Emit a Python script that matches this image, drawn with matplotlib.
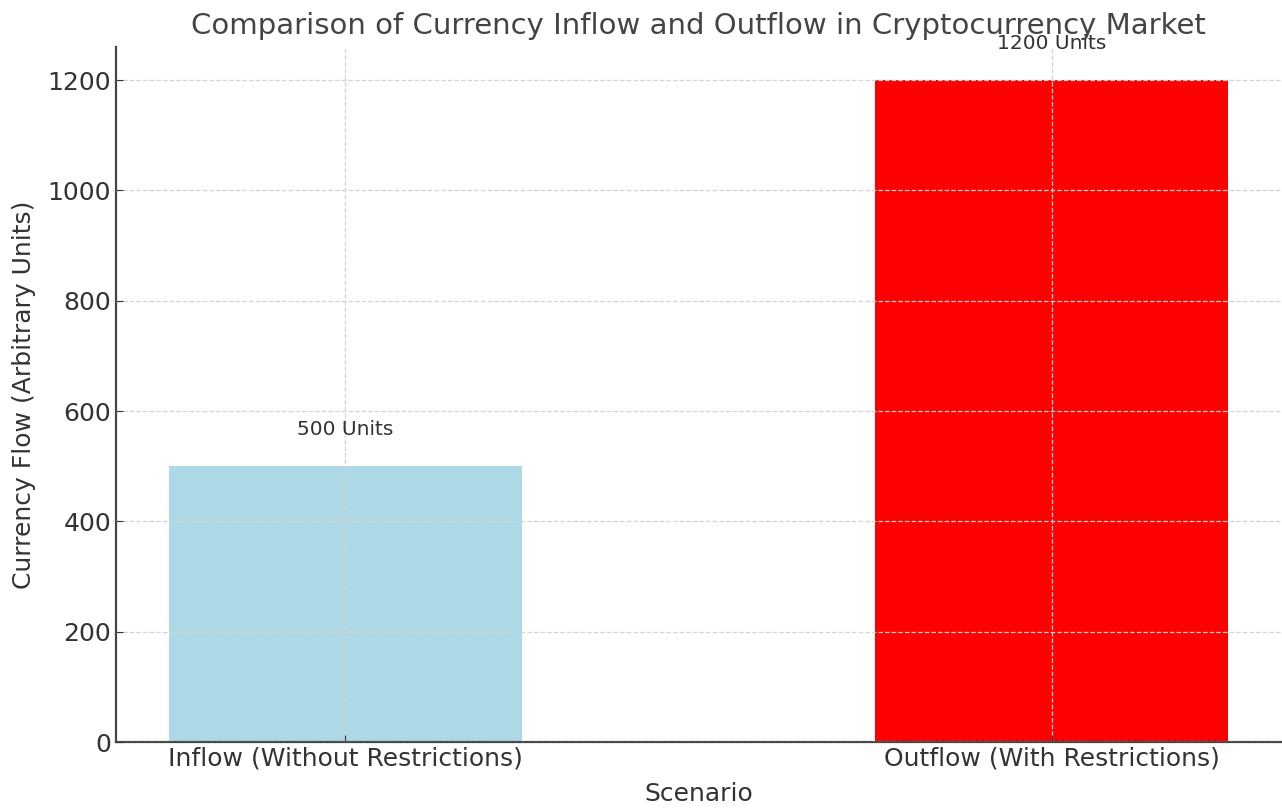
import matplotlib
matplotlib.use("Agg")
import matplotlib.pyplot as plt

# Datos del gráfico
scenarios = ["Inflow (Without Restrictions)", "Outflow (With Restrictions)"]
flows = [500, 1200]
colors = ["lightblue", "red"]

fig = plt.figure(figsize=(12.82, 8.08), dpi=100)
ax = fig.add_axes([116 / 1282, 66 / 808, 1165 / 1282, 695 / 808])

bars = ax.bar(scenarios, flows, color=colors, width=0.5)

# Etiquetas sobre cada barra
for b, v in zip(bars, flows):
    ax.text(b.get_x() + b.get_width() / 2, v + 50, f"{v} Units",
            ha="center", va="bottom", fontsize=14.5, color="#333333")

ax.set_ylim(0, 1260)
ax.set_title("Comparison of Currency Inflow and Outflow in Cryptocurrency Market",
             fontsize=21, color="#444444", pad=9)
ax.set_xlabel("Scenario", fontsize=18, color="#333333", labelpad=8)
ax.set_ylabel("Currency Flow (Arbitrary Units)", fontsize=18, color="#333333", labelpad=8)
ax.tick_params(direction="in", labelsize=18, colors="#333333", length=5)
ax.grid(True, linestyle="--", color="#d4d4d4", linewidth=0.9)
ax.set_axisbelow(False)
for s in ["top", "right"]:
    ax.spines[s].set_visible(False)
for s in ["left", "bottom"]:
    ax.spines[s].set_color("#444444")
    ax.spines[s].set_linewidth(1.6)

fig.savefig("out.png", dpi=100)
